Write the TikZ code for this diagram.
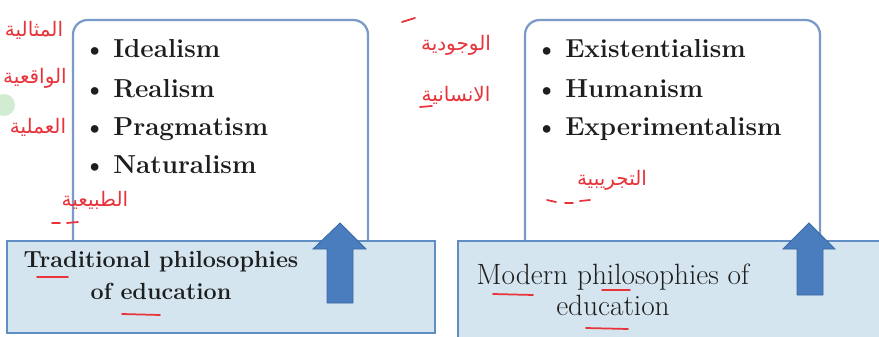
\documentclass[tikz,border=0pt]{standalone}
\usepackage{fontspec}
\newfontfamily\arabicfont[Script=Arabic]{DejaVu Sans}
\TeXXeTstate=1
\definecolor{boxline}{HTML}{7A9BC8}
\definecolor{rectfill}{HTML}{D4E5EF}
\definecolor{rectline}{HTML}{5F8DC4}
\definecolor{arrowfill}{HTML}{4A7DBE}
\definecolor{arrowline}{HTML}{3B68A6}
\definecolor{pen}{HTML}{E8333B}
\definecolor{txt}{HTML}{1E1E1E}
\tikzset{
  roundbox/.style={draw=boxline, line width=1.7pt, fill=white, rounded corners=11pt},
  bluerect/.style={draw=rectline, line width=1.5pt, fill=rectfill},
  blockarrow/.style={fill=arrowfill, draw=arrowline, line width=0.6pt},
  itemtext/.style={anchor=base west, inner sep=0pt, text=txt, font=\fontsize{19.5}{22}\selectfont\bfseries},
  tradtext/.style={align=center, inner sep=0pt, text=txt, font=\fontsize{17.5}{24}\selectfont\bfseries},
  modtext/.style={align=center, inner sep=0pt, text=txt, font=\fontsize{22}{23.5}\selectfont},
  handar/.style={inner sep=0pt, text=pen, font=\arabicfont\fontsize{15}{18}\selectfont},
  redline/.style={draw=pen, line width=1.3pt, line cap=round},
}
\newcommand{\itm}[1]{\textbullet\hspace{0.28em}#1}
\begin{document}
\begin{tikzpicture}[x=0.75pt,y=-0.75pt]
\useasboundingbox (0,0) rectangle (879,336);
\fill[white] (0,0) rectangle (879,336);
% faint green mark
\fill[green!40!gray!25] (4,105) circle (11);
% upper rounded boxes
\path[roundbox] (73,275) rectangle (368,20);
\path[roundbox] (525,275) rectangle (820,20);
% lists
\node[itemtext] (i1) at (83,57) {\itm{Idealism}};
\node[itemtext] (i2) at (83,97) {\itm{Realism}};
\node[itemtext] (i3) at (83,135) {\itm{Pragmatism}};
\node[itemtext] (i4) at (83,173) {\itm{Naturalism}};
\node[itemtext] (m1) at (535,57) {\itm{Existentialism}};
\node[itemtext] (m2) at (535,97) {\itm{Humanism}};
\node[itemtext] (m3) at (535,135) {\itm{Experimentalism}};
% lower blue rectangles
\path[bluerect] (7,241) rectangle (435,333);
\path[bluerect] (458,241) rectangle (885,342);
\node[tradtext] (trad) at (161,275) {Traditional philosophies\\of education};
\node[modtext] (mod) at (613,290) {Modern philosophies of\\education};
% block arrows
\path[blockarrow] (327,303) -- (327,249) -- (313,249) -- (340,223) -- (366,249) -- (353,249) -- (353,303) -- cycle;
\path[blockarrow] (797,295) -- (797,249) -- (783,249) -- (809,223) -- (835,249) -- (823,249) -- (823,295) -- cycle;
% handwritten annotations
\node[handar] (h1) at (34,30) {\beginR المثالية\endR};
\node[handar] (h2) at (35,78) {\beginR الواقعية\endR};
\node[handar] (h3) at (38,127) {\beginR العملية\endR};
\node[handar] (h4) at (95,200) {\beginR الطبيعية\endR};
\node[handar] (h5) at (456,45) {\beginR الوجودية\endR};
\node[handar] (h6) at (456,95) {\beginR الانسانية\endR};
\node[handar] (h7) at (612,180) {\beginR التجريبية\endR};
% red underlines
\draw[redline] (37,277) -- (68,277);
\draw[redline] (122,314) -- (160,315);
\draw[redline] (493,294) -- (533,295);
\draw[redline] (602,290) -- (630,290);
\draw[redline] (586,328) -- (628,329);
\draw[redline] (52,223) -- (60,223) (67,223) -- (78,222);
\draw[redline] (547,200) -- (556,202) (565,203) -- (573,203) (580,201) -- (590,200);
\draw[redline] (402,22) -- (415,18);
\draw[redline] (420,107) -- (432,106);
\end{tikzpicture}
\end{document}
